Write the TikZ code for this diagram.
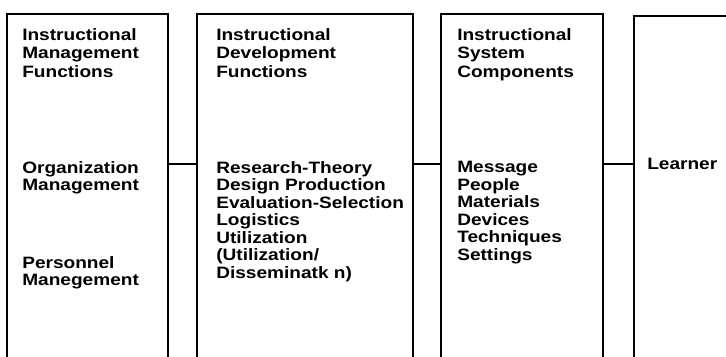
\documentclass[tikz,border=0pt]{standalone}
\usepackage{fontspec}
\newfontfamily\diagfont{Liberation Sans Bold}[FakeStretch=1.16]
\tikzset{
  colbox/.style={draw, line width=1.5pt, anchor=north west, inner sep=0pt, minimum height=10cm},
  coltext/.style={anchor=north west, align=left, inner sep=0pt, font=\diagfont\fontsize{11.7pt}{12.45pt}\selectfont},
  headtext/.style={coltext, font=\diagfont\fontsize{11.7pt}{13.2pt}\selectfont},
  link/.style={line width=1.5pt}
}
\begin{document}
\begin{tikzpicture}
\useasboundingbox (0,0) rectangle (18.15,8.925);
\clip (0,0) rectangle (18.15,8.925);

% columns, open at the bottom
\node[colbox, minimum width=4.025cm] (mgmt) at (0.15,8.6) {};
\node[colbox, minimum width=5.4cm] (devt) at (4.9,8.6) {};
\node[colbox, minimum width=4.05cm] (sys) at (11.0,8.6) {};
\node[colbox, minimum width=3.5cm] (lrnbox) at (15.825,8.55) {};

% management
\node[headtext] (mgmthead) at (0.55,8.225) {Instructional\\Management\\Functions};
\node[coltext] (orgmgmt) at (0.55,4.9) {Organization\\Management};
\node[coltext] (persmgmt) at (0.55,2.525) {Personnel\\Manegement};

% development
\node[headtext] (devthead) at (5.4,8.225) {Instructional\\Development\\Functions};
\node[coltext] (devtlist) at (5.4,4.9) {Research-Theory\\Design Production\\Evaluation-Selection\\Logistics\\Utilization\\(Utilization/\\Disseminatk n)};

% system components
\node[headtext] (syshead) at (11.425,8.225) {Instructional\\System\\Components};
\node[coltext] (syslist) at (11.425,4.9) {Message\\People\\Materials\\Devices\\Techniques\\Settings};

\node[coltext, anchor=west] (lrn) at (16.175,4.825) {Learner};

\draw[link] (mgmt.east |- lrn) -- (devt.west |- lrn);
\draw[link] (devt.east |- lrn) -- (sys.west |- lrn);
\draw[link] (sys.east |- lrn) -- (lrnbox.west |- lrn);
\end{tikzpicture}
\end{document}
